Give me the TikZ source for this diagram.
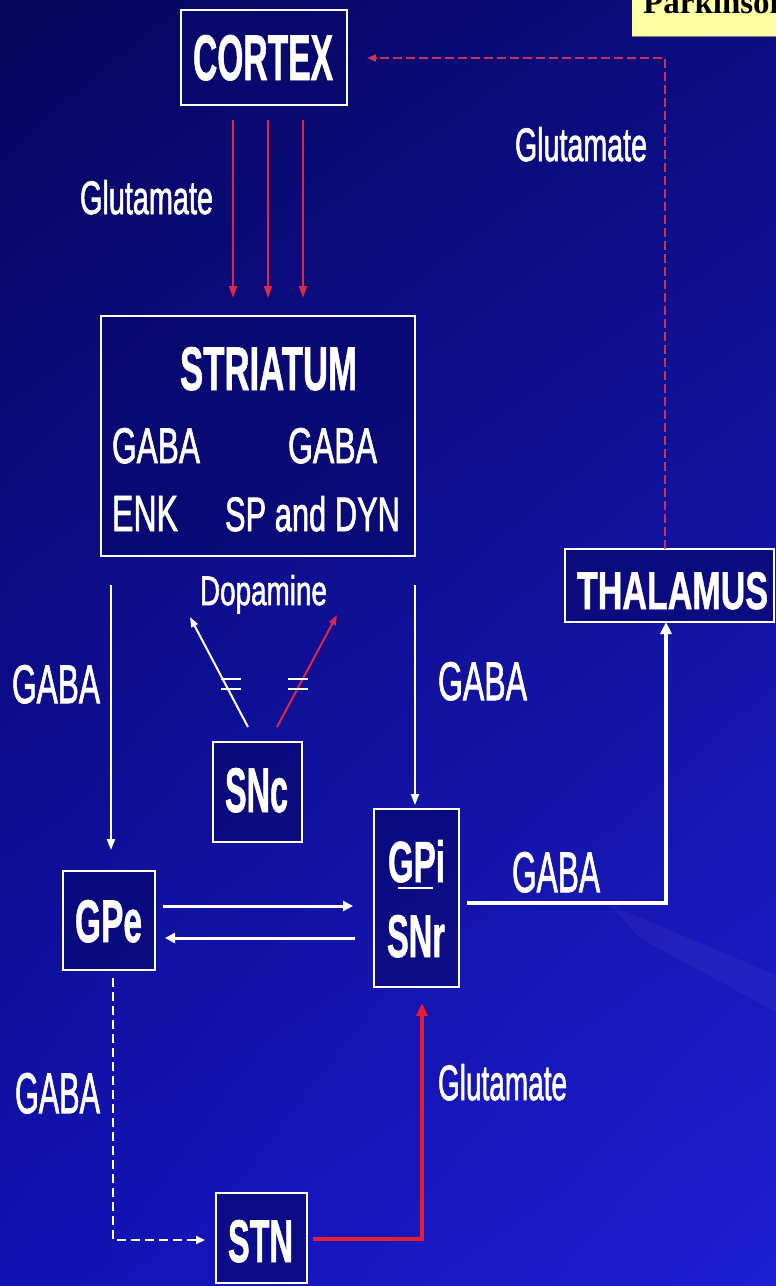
\documentclass[tikz,border=0pt]{standalone}
\usepackage{fontspec}
\setmainfont{Liberation Sans}
\newfontfamily\serifft{Liberation Serif}
\newfontfamily\rgf{Liberation Sans}[FakeBold=1.8]
\newfontfamily\bdf{Liberation Sans}[UprightFont={* Bold}, FakeBold=1.3]
\usetikzlibrary{arrows.meta,calc,shadings}
\newcommand{\tx}[3]{\resizebox{#1pt}{#2pt}{\rgf #3}}
\newcommand{\tb}[3]{\resizebox{#1pt}{#2pt}{\bdf #3}}
\definecolor{bgTL}{RGB}{6,6,92}
\definecolor{bgTR}{RGB}{12,12,128}
\definecolor{bgBL}{RGB}{18,18,178}
\definecolor{bgBR}{RGB}{30,30,212}
\definecolor{boxfill}{RGB}{8,8,110}
\definecolor{redA}{RGB}{220,40,70}
\definecolor{redB}{RGB}{200,50,85}
\definecolor{redC}{RGB}{232,28,50}
\definecolor{paleyellow}{RGB}{255,255,165}
\tikzset{
  box/.style={draw=white, line width=2pt, fill=boxfill, fill opacity=0.65, inner sep=0pt, outer sep=0pt},
  txt/.style={text=white, inner sep=0pt, outer sep=0pt, anchor=base west},
  wtip/.style={-{Triangle[length=11pt,width=8pt]}},
  rtip/.style={-{Triangle[length=12pt,width=8pt]}},
  redline/.style={draw=redA, line width=2pt, rtip},
  whiteline/.style={draw=white, line width=2pt, wtip},
  whitethick/.style={draw=white, line width=3pt, -{Triangle[length=10pt,width=10pt]}},
}
\begin{document}
\begin{tikzpicture}[x=1pt,y=-1pt]
\useasboundingbox (0,0) rectangle (776,1286);
\shade[upper left=bgTL, upper right=bgTR, lower left=bgBL, lower right=bgBR] (0,0) rectangle (776,1286);
\fill[white, opacity=0.04] (610,905) -- (776,975) -- (776,1012) -- (640,938) -- cycle;

% title box (cropped)
\fill[paleyellow] (632,-5) rectangle (780,36);
\draw[gray, line width=1pt] (632,36) -- (780,36);
\node[anchor=base west, inner sep=0pt, text=black, font=\serifft\bfseries\fontsize{33}{36}\selectfont] (park) at (643,13) {Parkinson};

% boxes
\node[box, minimum width=166pt, minimum height=95pt] (cortex) at (264,57.5) {};
\node[box, minimum width=314pt, minimum height=240pt] (striatum) at (258,436) {};
\node[box, minimum width=209pt, minimum height=73pt] (thalamus) at (669.5,585.5) {};
\node[box, minimum width=89pt, minimum height=100pt] (snc) at (257.5,792) {};
\node[box, minimum width=92pt, minimum height=99pt] (gpe) at (109,920.5) {};
\node[box, minimum width=85pt, minimum height=178pt] (gpi) at (416.5,898) {};
\node[box, minimum width=91pt, minimum height=90pt] (stn) at (261.5,1238) {};

% box texts
\node[txt] (tcortex) at (193,80) {\tb{140}{45}{CORTEX}};
\node[txt] (tstriatum) at (180,390) {\tb{177}{43}{STRIATUM}};
\node[txt] (tgabaL) at (112,463) {\tx{88}{35}{GABA}};
\node[txt] (tgabaR) at (288,463) {\tx{89}{35}{GABA}};
\node[txt] (tenk) at (112,531) {\tx{66}{35}{ENK}};
\node[txt] (tspdyn) at (225,531) {\tx{175}{35}{SP and DYN}};
\node[txt] (tthal) at (577,609) {\tb{191}{37}{THALAMUS}};
\node[txt] (tsnc) at (225,812) {\tb{63}{44}{SNc}};
\node[txt] (tgpe) at (75,942) {\tb{67}{42}{GPe}};
\node[txt] (tgpi) at (388,882) {\tb{57}{42}{GPi}};
\node[txt] (tsnr) at (387,957) {\tb{58}{42}{SNr}};
\node[txt] (tstn) at (228,1262) {\tb{65}{42}{STN}};
\draw[white, line width=2pt] ($(tgpi.base west)+(10,6)$) -- ($(tgpi.base west)+(45,6)$);

% labels
\node[txt] (lglu1) at (80,214) {\tx{133}{34}{Glutamate}};
\node[txt] (lglu2) at (515,161) {\tx{132}{34}{Glutamate}};
\node[txt] (lglu3) at (438,1100) {\tx{129}{36}{Glutamate}};
\node[txt] (ldopa) at (200,605) {\tx{127}{30}{Dopamine}};
\node[txt] (lgaba1) at (12,703) {\tx{88}{38}{GABA}};
\node[txt] (lgaba2) at (438,700) {\tx{89}{38}{GABA}};
\node[txt] (lgaba3) at (512,892) {\tx{88}{40}{GABA}};
\node[txt] (lgaba4) at (15,1113) {\tx{85}{40}{GABA}};

% cortex -> striatum
\draw[redline] ($(cortex.south)+(-31,15)$) -- ($(striatum.north)+(-25,-18)$);
\draw[redline] ($(cortex.south)+(4,15)$) -- ($(striatum.north)+(10,-18)$);
\draw[redline] ($(cortex.south)+(39,15)$) -- ($(striatum.north)+(45,-18)$);

% thalamus -> cortex (dashed)
\draw[draw=redB, line width=1.6pt, dash pattern=on 9pt off 4pt, -{Triangle[length=9pt,width=7pt]}]
  ($(thalamus.north)+(-4.5,0)$) |- ($(cortex.east)+(20,0.5)$);

% striatum -> gpe, gpi
\draw[whiteline] ($(striatum.south west)+(10,29)$) -- ($(gpe.north)+(2,-21)$);
\draw[whiteline] ($(striatum.south east)+(0,29)$) -- ($(gpi.north)+(-1.5,-4)$);

% dopamine
\coordinate (dopL) at (190,617);
\coordinate (dopR) at (337,615);
\draw[white, line width=2pt, -{Triangle[length=10pt,width=7pt]}] ($(snc.north)+(-9.5,-15)$) -- (dopL);
\draw[draw=redA, line width=2pt, -{Triangle[length=10pt,width=7pt]}] ($(snc.north)+(19.5,-15)$) -- (dopR);
\draw[white, line width=2pt] (221,679) -- (241,679) (221,689) -- (241,689);
\draw[white, line width=2pt] (288,679) -- (308,679) (288,689) -- (308,689);

% gpe <-> gpi
\draw[whitethick] ($(gpe.east)+(8,-14.5)$) -- ($(gpi.west)+(-21,8)$);
\draw[whitethick] ($(gpi.west)+(-19,40)$) -- ($(gpe.east)+(10,17.5)$);

% gpi -> thalamus
\draw[white, line width=4pt, -{Triangle[length=12pt,width=11pt]}] ($(gpi.east)+(8,5)$) -| ($(thalamus.south)+(-3.5,0)$);

% gpe -> stn dashed
\draw[white, line width=2pt, dash pattern=on 9pt off 5pt, -{Triangle[length=9pt,width=8pt]}] ($(gpe.south)+(4,8)$) |- ($(stn.west)+(-11,2)$);

% stn -> gpi
\draw[draw=redC, line width=4pt, -{Triangle[length=13pt,width=11pt]}] ($(stn.east)+(6,1)$) -| ($(gpi.south)+(5.5,16)$);
\end{tikzpicture}
\end{document}
